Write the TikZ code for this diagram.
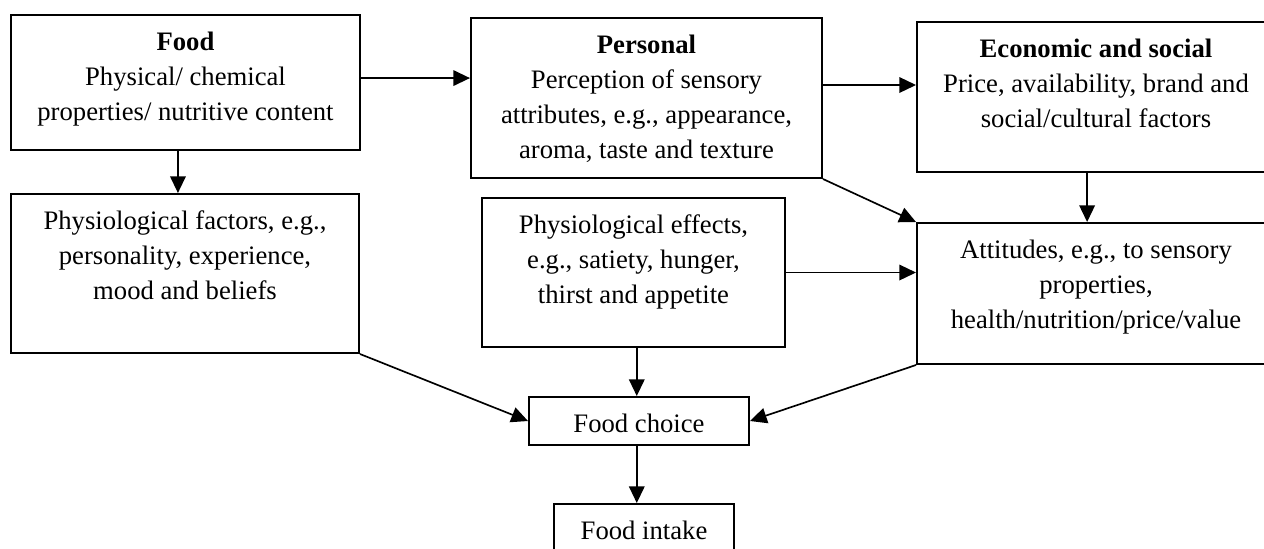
\documentclass[tikz,border=0pt]{standalone}
\usepackage{fontspec}
\setmainfont{Liberation Serif}
\usetikzlibrary{arrows.meta}
\begin{document}
\begin{tikzpicture}[x=0.45pt, y=-0.45pt]

      \tikzstyle{box_style} = [rectangle, draw, line width=0.9pt, inner sep=0pt, anchor=north, align=center, font=\fontsize{12}{15.75}\selectfont]
        \tikzstyle{three_lines} = [box_style, text height=47.25pt]
        \tikzstyle{arrow_style} = [-{Triangle[length=7.5pt, width=7pt]}, line width=0.75pt]

      \useasboundingbox (0,0) rectangle (1264,548);

            \draw
              (185.5, 14) node[three_lines, minimum width=157.05pt, text depth=13.5pt] (0){\textbf{Food}\\Physical/ chemical\\properties/ nutritive content}
              (646.5, 17) node[box_style, text height=63pt, minimum width=157.95pt, text depth=9pt] (1){\textbf{Personal}\\Perception of sensory\\attributes, e.g., appearance,\\aroma, taste and texture}
              (1096, 21) node[three_lines, minimum width=161.1pt, text depth=20.25pt] (2){\textbf{Economic and social}\\Price, availability, brand and\\social/cultural factors}
              (185, 193) node[three_lines, minimum width=156.6pt, text depth=24.3pt] (3){Physiological factors, e.g.,\\personality, experience,\\mood and beliefs}
              (633.5, 197) node[three_lines, minimum width=136.35pt, text depth=19.8pt] (4){Physiological effects,\\e.g., satiety, hunger,\\thirst and appetite}
              (1096, 222) node[three_lines, minimum width=161.1pt, text depth=16.2pt] (5){Attitudes, e.g., to sensory\\properties,\\health/nutrition/price/value}
              (639, 396) node[box_style, text height=15.75pt, minimum width=99pt, text depth=5.85pt] (6){Food choice}
              (644, 503) node[box_style, text height=15.75pt, minimum width=81pt, text depth=5.85pt] (7){Food intake};

      \begin{scope}[arrow_style]
        \draw ([yshift=2pt]0.east) -- ([yshift=2pt]0.east -| 1.west);
        \draw ([yshift=5.85pt]1.east) -- ([yshift=5.85pt]1.east -| 2.west);
        \draw ([xshift=-3.4pt]0.south) -- ([xshift=-3.4pt]0.south |- 3.north);
        \draw (1.south east) -- (5.north west);
        \draw ([xshift=-4pt]2.south) -- ([xshift=-4pt]2.south |- 5.north);
        \draw (4.east) -- (4.east -| 5.west);
        \draw (3.south east) -- (6.west);
        \draw ([xshift=-1pt]6.north |- 4.south) -- ([xshift=-1pt]6.north);
        \draw (5.south west) -- (6.east);
        \draw ([xshift=-1pt]6.south) -- ([xshift=-1pt]6.south |- 7.north);
      \end{scope}
    \end{tikzpicture}
\end{document}
